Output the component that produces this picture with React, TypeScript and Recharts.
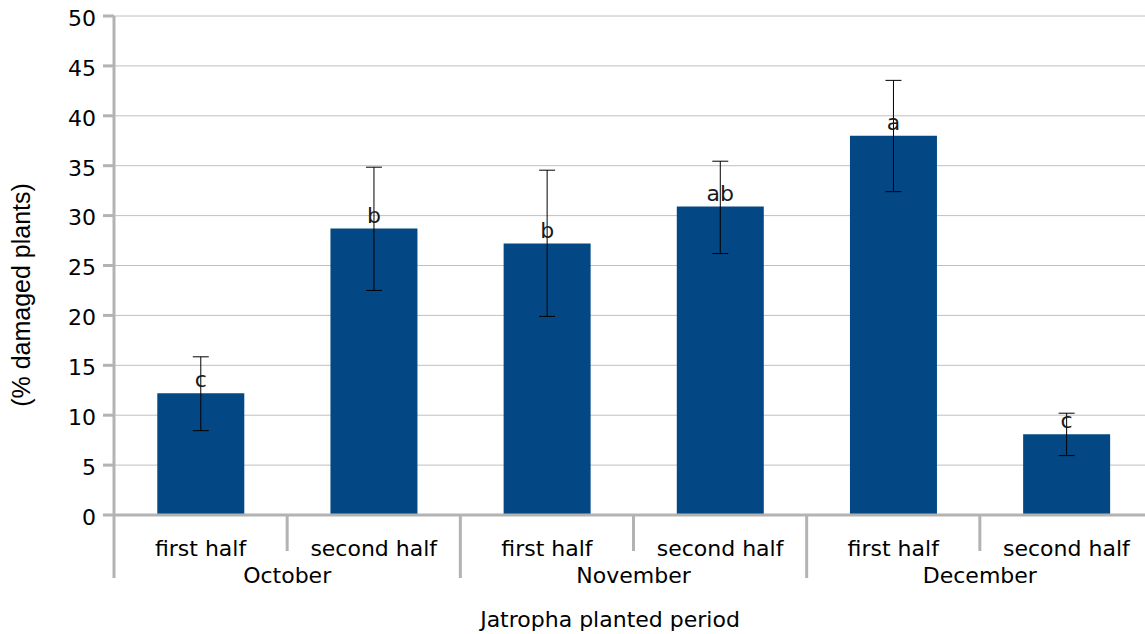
import React from 'react';
import { BarChart, Bar, XAxis, YAxis, CartesianGrid, ErrorBar, LabelList } from 'recharts';

// Planting periods (two halves per month) and their months
const halves = ['first half', 'second half', 'first half', 'second half', 'first half', 'second half'];
const months = ['October', 'November', 'December'];

// Mean share of damaged plants (%) with lower / upper error bounds
const damaged = [12.2, 28.7, 27.2, 30.9, 38.0, 8.1];
const errLow = [8.45, 22.5, 19.9, 26.2, 32.4, 5.95];
const errHigh = [15.85, 34.85, 34.55, 35.45, 43.55, 10.2];

// Significance groups shown above the bars
const letters = ['c', 'b', 'b', 'ab', 'a', 'c'];

const yTicks = [0, 5, 10, 15, 20, 25, 30, 35, 40, 45, 50];

const data = halves.map((half, i) => ({
  idx: i,
  half,
  value: damaged[i],
  err: [damaged[i] - errLow[i], errHigh[i] - damaged[i]],
  letter: letters[i],
}));

const AXIS = '#b3b3b3';
const FONT = 'DejaVu Sans';

// Two-level category tick: half-month label, month label, and the separators
const PeriodTick = (props: any) => {
  const { x, y, payload } = props;
  const i = Number(payload.value);
  const halfBand = payload.offset ?? 86.6;
  const left = x - halfBand;
  const monthStart = i % 2 === 0;
  return (
    <g>
      <line
        x1={left}
        y1={y}
        x2={left}
        y2={y + (monthStart ? 63 : 36)}
        stroke={AXIS}
        strokeWidth={3}
      />
      <text x={x} y={y + 41} textAnchor="middle" fontSize={22} fontFamily={FONT} fill="#000">
        {halves[i]}
      </text>
      {monthStart && (
        <text x={x + halfBand} y={y + 68} textAnchor="middle" fontSize={22} fontFamily={FONT} fill="#000">
          {months[i / 2]}
        </text>
      )}
    </g>
  );
};

export default function App() {
  return (
    <div
      style={{
        position: 'absolute',
        left: 0,
        top: 0,
        width: 1145,
        height: 634,
        overflow: 'hidden',
        background: '#fff',
        fontFamily: FONT,
      }}
    >
      <BarChart
        width={1153}
        height={634}
        data={data}
        margin={{ top: 16, right: 0, bottom: 0, left: 0 }}
        barCategoryGap="25%"
      >
        <CartesianGrid horizontal vertical={false} stroke="#c0c0c0" />
        <XAxis
          dataKey="idx"
          type="category"
          height={119}
          interval={0}
          tickSize={0}
          tickMargin={0}
          tickLine={false}
          axisLine={{ stroke: AXIS, strokeWidth: 3 }}
          tick={<PeriodTick />}
          label={{
            content: () => (
              <text x={610} y={627} textAnchor="middle" fontSize={22} fontFamily={FONT} fill="#000">
                Jatropha planted period
              </text>
            ),
          }}
        />
        <YAxis
          width={114}
          domain={[0, 50]}
          ticks={yTicks}
          interval={0}
          tickSize={11}
          tickMargin={7}
          tickLine={{ stroke: AXIS, strokeWidth: 3 }}
          axisLine={{ stroke: AXIS, strokeWidth: 3 }}
          tick={{ fill: '#000', fontSize: 22, fontFamily: FONT, dy: 2 }}
          label={{
            content: () => (
              <text
                x={21}
                y={295}
                transform="rotate(-90 21 295)"
                textAnchor="middle"
                dominantBaseline="central"
                fontSize={25}
                fontFamily="Liberation Sans"
                fill="#000"
              >
                (% damaged plants)
              </text>
            ),
          }}
        />
        <Bar dataKey="value" fill="#034884" isAnimationActive={false}>
          <ErrorBar dataKey="err" width={8} stroke="#000" strokeWidth={1} direction="y" isAnimationActive={false} />
          <LabelList dataKey="letter" position="top" offset={6} fill="#1a1a1a" fontSize={22} fontFamily={FONT} />
        </Bar>
      </BarChart>
    </div>
  );
}
